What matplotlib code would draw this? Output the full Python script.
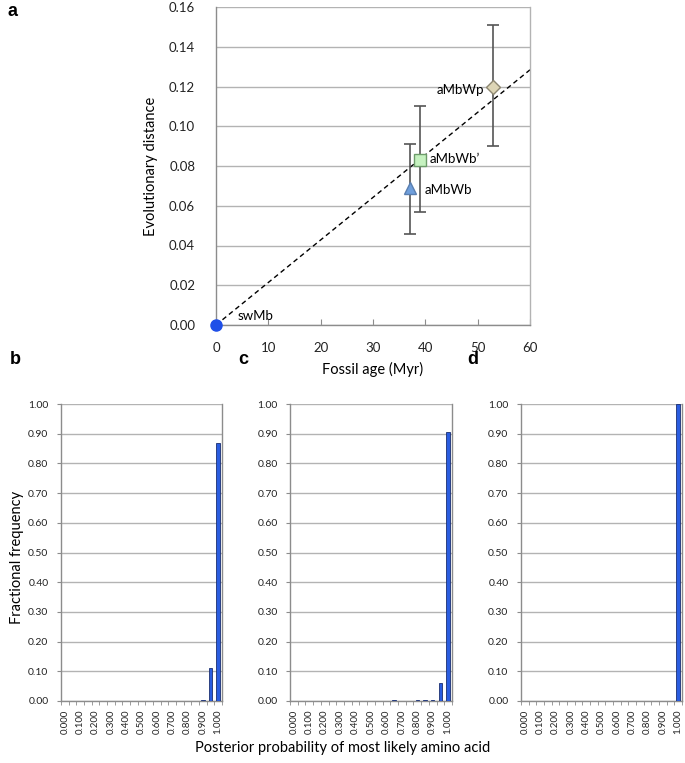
import numpy as np
import matplotlib
matplotlib.use("Agg")
import matplotlib.pyplot as plt

plt.rcParams['font.family'] = ['Lato', 'DejaVu Sans']

# ---- Panel a data ----
names = ["swMb", "aMbWb", "aMbWb\u2019", "aMbWp"]
fossil_age = [0, 37, 39, 53]
evo_dist = [0.0, 0.069, 0.083, 0.120]
err_low = [0.0, 0.023, 0.026, 0.030]
err_high = [0.0, 0.022, 0.027, 0.031]
fit_slope = 0.00214
fit_x = [0, 60]

# ---- Panels b-d data ----
bins = [round(0.05 * i, 3) for i in range(21)]
bin_labels = ["%.3f" % b for b in bins]
freq_b = [0]*18 + [0.005, 0.11, 0.87]
freq_c = [0]*13 + [0.005, 0, 0, 0.005, 0.005, 0.005, 0.06, 0.905]
freq_d = [0]*20 + [1.00]

GRID = "#b3b3b3"
SPINE = "#8c8c8c"

fig = plt.figure(figsize=(6.85, 7.63), dpi=100)
W, H = 685, 763

def add_ax(l, t, r, b):
    return fig.add_axes([l / W, 1 - b / H, (r - l) / W, (b - t) / H])

# ---- Panel a ----
ax = add_ax(216, 7, 530, 325)
ax.set_xlim(0, 60)
ax.set_ylim(0, 0.16)
ax.set_yticks(np.arange(0, 0.161, 0.02))
ax.set_yticklabels(["%.2f" % v for v in np.arange(0, 0.161, 0.02)], fontsize=9.5, color="#222222")
ax.set_xticks(np.arange(0, 61, 10))
ax.set_xticklabels([str(v) for v in range(0, 61, 10)], fontsize=9.5, color="#222222")
ax.tick_params(axis="y", length=0, pad=15)
ax.tick_params(axis="x", length=4, direction="in", color=SPINE, pad=12)
ax.grid(axis="y", color=GRID, lw=1.0)
ax.set_axisbelow(True)
ax.spines["top"].set_visible(False)
for s in ["left", "bottom", "right"]:
    ax.spines[s].set_color(SPINE if s != "right" else GRID)
    ax.spines[s].set_linewidth(1.0)
ax.set_xlabel("Fossil age (Myr)", fontsize=10.5, labelpad=6)
ax.set_ylabel("Evolutionary distance", fontsize=10.5, labelpad=8)

fx = np.array(fit_x, dtype=float)
ax.plot(fx, fit_slope * fx, ls=(0, (3.5, 2.5)), color="black", lw=1.0, zorder=2)

styles = [
    dict(marker="o", mfc="#1f4fe8", mec="#1f4fe8", ms=8),
    dict(marker="^", mfc="#6f9fdc", mec="#5a7fb0", ms=9),
    dict(marker="s", mfc="#c6f2c0", mec="#6d9c6a", ms=8),
    dict(marker="D", mfc="#ddd5b5", mec="#8c8670", ms=7),
]
for i in range(len(names)):
    if err_low[i] > 0 or err_high[i] > 0:
        ax.errorbar([fossil_age[i]], [evo_dist[i]], yerr=[[err_low[i]], [err_high[i]]],
                    fmt="none", ecolor="#555555", elinewidth=1.2, capsize=4, capthick=1.2, zorder=3)
    ax.plot([fossil_age[i]], [evo_dist[i]], ls="none", zorder=4, clip_on=False, **styles[i])

ax.text(4.2, 0.0045, names[0], fontsize=9.5, va="center", ha="left")
ax.text(39.9, 0.068, names[1], fontsize=9.5, va="center", ha="left")
ax.text(40.8, 0.0835, names[2], fontsize=9.5, va="center", ha="left")
ax.text(51.3, 0.118, names[3], fontsize=9.5, va="center", ha="right")

fig.text(8 / W, 1 - 12 / H, "a", fontsize=13, fontweight="bold", family="Liberation Sans", va="center")

# ---- Panels b-d ----
panels = [(61, 222, freq_b, "b", 10), (290, 452, freq_c, "c", 238), (521, 682, freq_d, "d", 467)]
x = np.arange(len(bins))
for i, (l, r, vals, lab, lx) in enumerate(panels):
    bx = add_ax(l, 404, r, 701)
    bx.bar(x, vals, width=0.45, color="#2a5de0", edgecolor="#1b2f70", linewidth=0.6, zorder=3)
    bx.set_xlim(-0.5, len(bins) - 0.5)
    bx.set_ylim(0, 1.0)
    yt = np.arange(0, 1.001, 0.1)
    bx.set_yticks(yt)
    bx.set_yticklabels(["%.2f" % v for v in yt], fontsize=7.5, color="#222222")
    bx.tick_params(axis="y", length=3, direction="out", color=SPINE, pad=6)
    bx.set_xticks(x[::2])
    bx.set_xticklabels(bin_labels[::2], rotation=90, fontsize=7, color="#222222")
    bx.set_xticks(np.arange(-0.5, len(bins), 1.0), minor=True)
    bx.tick_params(axis="x", which="major", length=0, pad=6)
    bx.tick_params(axis="x", which="minor", length=3, direction="out", color=SPINE)
    bx.grid(axis="y", color=GRID, lw=1.0)
    bx.set_axisbelow(True)
    bx.spines["top"].set_visible(False)
    for s in ["left", "bottom", "right"]:
        bx.spines[s].set_color(SPINE)
        bx.spines[s].set_linewidth(1.0)
    fig.text(lx / W, 1 - 360 / H, lab, fontsize=13, fontweight="bold", family="Liberation Sans", va="center")

fig.text(10 / W, 1 - 557 / H, "Fractional frequency", fontsize=10.5, rotation=90, va="center", ha="left")
fig.text(343 / W, 1 - 748 / H, "Posterior probability of most likely amino acid", fontsize=10.5, va="center", ha="center")

fig.savefig("out.png", dpi=100)
